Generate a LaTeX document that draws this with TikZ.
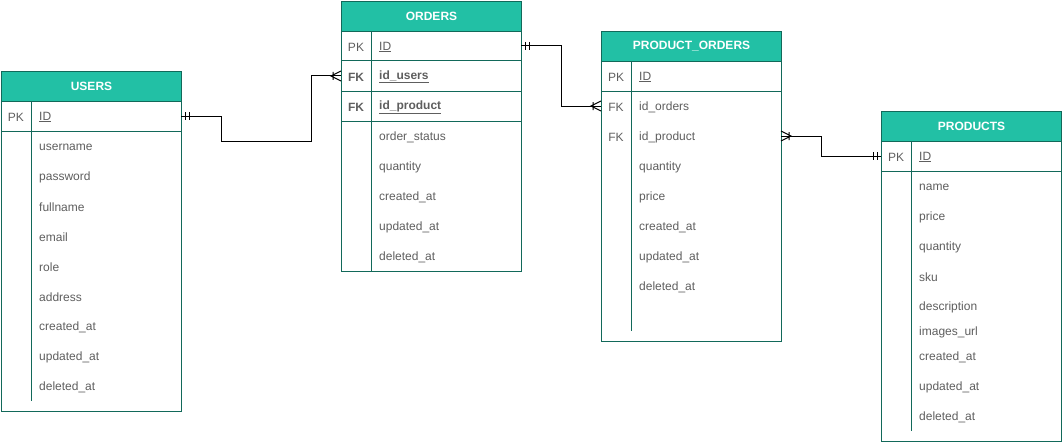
\documentclass[tikz,border=0pt]{standalone}
\usepackage{fontspec}
\setmainfont{Liberation Sans}
\definecolor{hdr}{HTML}{22C0A5}
\definecolor{bdr}{HTML}{12695A}
\definecolor{txt}{HTML}{5E5E5E}
\begin{document}
\begin{tikzpicture}[x=1pt,y=-1pt,
  tframe/.style={draw=bdr,line width=1pt},
  hdrbox/.style={draw=bdr,line width=1pt,fill=hdr,text=white,anchor=north west,minimum width=180pt,minimum height=30pt,inner sep=0pt,font=\fontsize{12}{14}\selectfont\bfseries},
  fld/.style={anchor=west,inner sep=0pt,yshift=-1pt,text=txt,font=\fontsize{12}{14}\selectfont},
  key/.style={anchor=center,inner sep=0pt,yshift=-1pt,text=txt,font=\fontsize{12}{14}\selectfont},
  conn/.style={draw=black,line width=1pt},
  mandone/.pic={\draw[conn] (4,-4)--(4,4) (8,-4)--(8,4);},
  crowfoot/.pic={\draw[conn] (0,-5)--(10,0)--(0,5) (8,-4)--(8,4);}
]
\useasboundingbox (0,0) rectangle (1063,444);

% ---------- USERS ----------
\draw[tframe] (1,101) rectangle (181,411);
\draw[tframe] (1,131) -- (181,131) (31,101) -- (31,401);
\node[hdrbox] (users) at (1,71) {USERS};
\node[key] (uPK) at (16,116) {PK};
\node[fld] (uID) at (39,116) {\underline{ID}};
\node[fld] (u1) at (39,146) {username};
\node[fld] (u2) at (39,176) {password};
\node[fld] (u3) at (39,206) {fullname};
\node[fld] (u4) at (39,236) {email};
\node[fld] (u5) at (39,266) {role};
\node[fld] (u6) at (39,296) {address};
\node[fld] (u7) at (39,326) {created\_at};
\node[fld] (u8) at (39,356) {updated\_at};
\node[fld] (u9) at (39,386) {deleted\_at};
\coordinate (uidR) at (181,116);

% ---------- ORDERS ----------
\draw[tframe] (341,31) rectangle (521,271);
\draw[tframe] (341,61) -- (521,61) (341,91) -- (521,91) (341,121) -- (521,121) (371,31) -- (371,271);
\node[hdrbox] (orders) at (341,1) {ORDERS};
\node[key] (oPK) at (356,46) {PK};
\node[fld] (oID) at (379,46) {\underline{ID}};
\node[key] (oFK1) at (356,76) {\bfseries FK};
\node[fld] (oU) at (379,76) {\bfseries\underline{id\_users}};
\node[key] (oFK2) at (356,106) {\bfseries FK};
\node[fld] (oP) at (379,106) {\bfseries\underline{id\_product}};
\node[fld] (o1) at (379,136) {order\_status};
\node[fld] (o2) at (379,166) {quantity};
\node[fld] (o3) at (379,196) {created\_at};
\node[fld] (o4) at (379,226) {updated\_at};
\node[fld] (o5) at (379,256) {deleted\_at};
\coordinate (oidR) at (521,46);
\coordinate (ouL) at (341,76);

% ---------- PRODUCT_ORDERS ----------
\draw[tframe] (601,61) rectangle (781,341);
\draw[tframe] (601,91) -- (781,91) (631,61) -- (631,331);
\node[hdrbox] (porders) at (601,31) {PRODUCT\_ORDERS};
\node[key] (pPK) at (616,76) {PK};
\node[fld] (pID) at (639,76) {\underline{ID}};
\node[key] (pFK1) at (616,106) {FK};
\node[fld] (pO) at (639,106) {id\_orders};
\node[key] (pFK2) at (616,136) {FK};
\node[fld] (pP) at (639,136) {id\_product};
\node[fld] (p1) at (639,166) {quantity};
\node[fld] (p2) at (639,196) {price};
\node[fld] (p3) at (639,226) {created\_at};
\node[fld] (p4) at (639,256) {updated\_at};
\node[fld] (p5) at (639,286) {deleted\_at};
\coordinate (poL) at (601,106);
\coordinate (ppR) at (781,136);

% ---------- PRODUCTS ----------
\draw[tframe] (881,141) rectangle (1061,441);
\draw[tframe] (881,171) -- (1061,171) (911,141) -- (911,431);
\node[hdrbox] (products) at (881,111) {PRODUCTS};
\node[key] (rPK) at (896,156) {PK};
\node[fld] (rID) at (919,156) {\underline{ID}};
\node[fld] (r1) at (919,186) {name};
\node[fld] (r2) at (919,216) {price};
\node[fld] (r3) at (919,246) {quantity};
\node[fld] (r4) at (919,276) {sku};
\node[fld] (r5) at (919,306) {description};
\node[fld] (r6) at (919,331) {images\_url};
\node[fld] (r7) at (919,356) {created\_at};
\node[fld] (r8) at (919,386) {updated\_at};
\node[fld] (r9) at (919,416) {deleted\_at};
\coordinate (ridL) at (881,156);

% ---------- connectors ----------
\draw[conn] (uidR) -- ++(40,0) -- ++(0,25) -- ++(90,0) |- (ouL);
\pic at (uidR) {mandone};
\pic[xscale=-1] at (ouL) {crowfoot};

\draw[conn] (oidR) -- ++(40,0) |- (poL);
\pic at (oidR) {mandone};
\pic[xscale=-1] at (poL) {crowfoot};

\draw[conn] (ppR) -- ++(40,0) |- (ridL);
\pic at (ppR) {crowfoot};
\pic[xscale=-1] at (ridL) {mandone};
\end{tikzpicture}
\end{document}
